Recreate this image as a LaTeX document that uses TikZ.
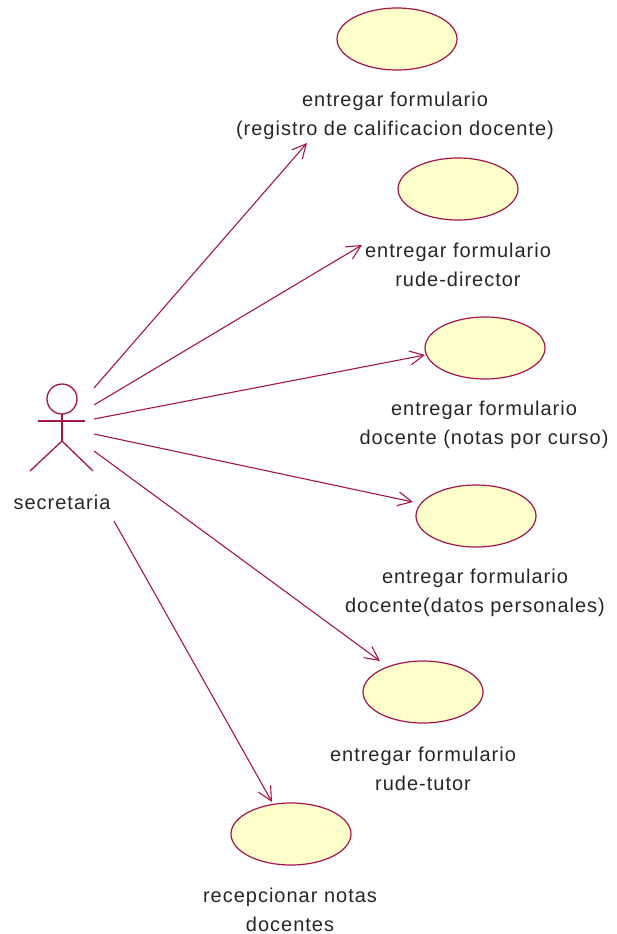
\documentclass[tikz,border=0pt]{standalone}
\usepackage{fontspec}
\setmainfont{Liberation Sans}[LetterSpace=5]
\usetikzlibrary{arrows.meta}

\definecolor{umlline}{RGB}{165,20,75}
\definecolor{umlfill}{RGB}{255,255,204}

\tikzset{
	usecase/.style={draw=umlline, fill=umlfill, line width=1.2},
	lbl/.style={align=center, font=\fontsize{20}{28.5}\selectfont, text=black!85, inner sep=0},
	assoc/.style={-{Straight Barb[length=14, width=14]}, draw=umlline, line width=1.1},
	actorline/.style={draw=umlline, line width=1.3}
}

\begin{document}
\begin{tikzpicture}[x=1pt, y=-1pt]
	\useasboundingbox (0, 0) rectangle (616, 934);

	% actor
	\draw[actorline]
		(62, 399) circle (15);
	\draw[actorline]
		(38, 421) -- (85, 421);
	\draw[actorline]
		(62, 414) -- (62, 441);
	\draw[actorline]
		(30, 471) -- (62, 441) -- (93, 471);
	\node[lbl] (secretaria) at (62, 502)
		{secretaria};

	% use cases
	\draw[usecase] (397, 39) ellipse (60 and 31);
	\node[lbl] (registro) at (395, 116)
		{entregar formulario\\(registro de calificacion docente)};
	\draw[usecase] (458, 189) ellipse (60 and 31);
	\node[lbl] (director) at (458, 265)
		{entregar formulario\\rude-director};
	\draw[usecase] (485, 348) ellipse (60 and 31);
	\node[lbl] (notas) at (484, 425)
		{entregar formulario\\docente (notas por curso)};
	\draw[usecase] (476, 516) ellipse (60 and 31);
	\node[lbl] (datos) at (475, 593)
		{entregar formulario\\docente(datos personales)};
	\draw[usecase] (423, 692) ellipse (60 and 31);
	\node[lbl] (tutor) at (423, 769)
		{entregar formulario\\rude-tutor};
	\draw[usecase] (291, 834) ellipse (60 and 31);
	\node[lbl] (recepcion) at (290, 910)
		{recepcionar notas\\docentes};

	% connector ends
	\coordinate (from1) at (94, 388);
	\coordinate (from2) at (94, 405);
	\coordinate (from3) at (94, 419);
	\coordinate (from4) at (94, 434);
	\coordinate (from5) at (94, 451);
	\coordinate (from6) at (114, 521);
	\coordinate (to1) at (307, 143);
	\coordinate (to2) at (362, 245);
	\coordinate (to3) at (425, 355);
	\coordinate (to4) at (413, 502);
	\coordinate (to5) at (380, 661);
	\coordinate (to6) at (272, 802);

	% associations
	\draw[assoc] (from1) -- (to1);
	\draw[assoc] (from2) -- (to2);
	\draw[assoc] (from3) -- (to3);
	\draw[assoc] (from4) -- (to4);
	\draw[assoc] (from5) -- (to5);
	\draw[assoc] (from6) -- (to6);
\end{tikzpicture}
\end{document}
